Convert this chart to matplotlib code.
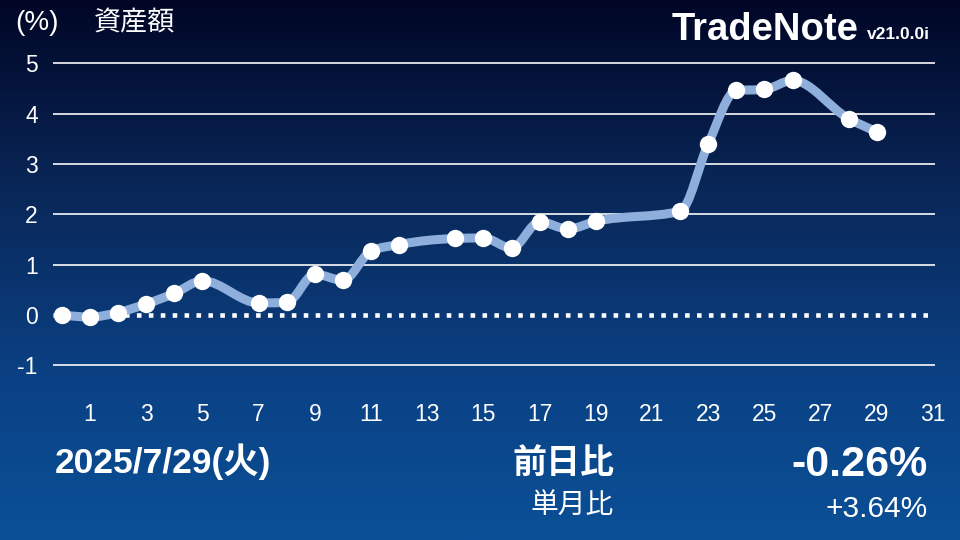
import numpy as np
import matplotlib
matplotlib.use("Agg")
import matplotlib.pyplot as plt
from matplotlib.path import Path
from matplotlib.patches import PathPatch
from matplotlib.colors import LinearSegmentedColormap

# ---- data ----
days = [0, 1, 2, 3, 4, 5, 7, 8, 9, 10, 11, 12, 14, 15, 16, 17, 18, 19, 22, 23, 24, 25, 26, 28, 29]
values = [0.00, -0.04, 0.05, 0.22, 0.43, 0.68, 0.24, 0.25, 0.81, 0.69, 1.27, 1.40, 1.52, 1.53,
          1.33, 1.85, 1.71, 1.86, 2.06, 3.40, 4.46, 4.48, 4.66, 3.90, 3.64]
x_ticks = list(range(1, 32, 2))
y_ticks = [-1, 0, 1, 2, 3, 4, 5]
date_label = "2025/7/29(火)"
day_change = "-0.26%"
month_change = "+3.64%"

W, H = 960, 540
fig = plt.figure(figsize=(9.6, 5.4), dpi=100)

# background gradient
bg = fig.add_axes([0, 0, 1, 1], zorder=-10)
cmap = LinearSegmentedColormap.from_list(
    "bg", [(0.0, "#010626"), (0.35, "#092758"), (0.7, "#0b4184"), (1.0, "#0a5097")])
grad = np.linspace(0, 1, 256).reshape(-1, 1)
bg.imshow(grad, aspect="auto", cmap=cmap, extent=[0, 1, 0, 1], origin="upper")
bg.set_axis_off()

# main axes
left, right, top, bottom = 53, 935, 60, 370
ax = fig.add_axes([left / W, 1 - bottom / H, (right - left) / W, (bottom - top) / H])
ax.set_facecolor("none")
ax.set_xlim(-0.32, 31.07)
ax.set_ylim(-1.092, 5.065)
for s in ax.spines.values():
    s.set_visible(False)

for v in y_ticks:
    if v == 0:
        ax.axhline(0, color="white", lw=3.3, linestyle=(0, (1, 1.6)), zorder=1)
    else:
        ax.axhline(v, color="white", lw=1.3, alpha=0.9, zorder=1)

ax.set_yticks(y_ticks)
ax.set_yticklabels([str(v) for v in y_ticks])
ax.set_xticks(x_ticks)
ax.set_xticklabels([str(v) for v in x_ticks])
ax.tick_params(axis="both", length=0, colors="white", labelsize=16.5)
ax.tick_params(axis="y", pad=11)
ax.tick_params(axis="x", pad=24)
for lab in ax.get_xticklabels() + ax.get_yticklabels():
    lab.set_family(["Liberation Sans", "DejaVu Sans"])

# monotone cubic curve (rendering style) through the data points
x = np.array(days, float)
y = np.array(values, float)
h = np.diff(x)
sec = np.diff(y) / h
n = len(x)
m = np.zeros(n)
for i in range(1, n - 1):
    s0, s1 = sec[i - 1], sec[i]
    p = (s0 * h[i] + s1 * h[i - 1]) / (h[i - 1] + h[i])
    m[i] = (np.sign(s0) + np.sign(s1)) * min(abs(s0), abs(s1), 0.5 * abs(p))
m[0] = (3 * sec[0] - m[1]) / 2
m[-1] = (3 * sec[-1] - m[-2]) / 2
verts = [(x[0], y[0])]
codes = [Path.MOVETO]
for i in range(n - 1):
    d = h[i] / 3
    verts += [(x[i] + d, y[i] + m[i] * d), (x[i + 1] - d, y[i + 1] - m[i + 1] * d), (x[i + 1], y[i + 1])]
    codes += [Path.CURVE4] * 3
ax.add_patch(PathPatch(Path(verts, codes), fill=False, edgecolor="#8eaedb", lw=6.5,
                       capstyle="round", joinstyle="round", zorder=3))
ax.plot(days, values, "o", color="white", markersize=12.5, markeredgewidth=0, zorder=4)

# texts
def ftext(px, py, s, **kw):
    fig.text(px / W, 1 - py / H, s, color="white", **kw)

cjk = ["Noto Sans CJK JP", "DejaVu Sans"]
lat = ["Liberation Sans", "Noto Sans CJK JP", "DejaVu Sans"]

ftext(15, 23, "(%)", family=lat, fontsize=20, va="center", ha="left")
ftext(94, 23, "資産額", family=cjk, fontsize=19.5, va="center", ha="left")
ftext(858, 40, "TradeNote", family=lat, fontsize=27.5, fontweight="bold", ha="right", va="baseline")
ftext(930, 39, "v21.0.0i", family=lat, fontsize=12.5, fontweight="bold", ha="right", va="baseline")

ftext(55, 473, date_label, family=lat, fontsize=25.5, fontweight="bold", ha="left", va="baseline")
ftext(614, 462, "前日比", family=cjk, fontsize=24.5, fontweight="bold", ha="right", va="center")
ftext(928, 476, day_change, family=lat, fontsize=31, fontweight="bold", ha="right", va="baseline")
ftext(614, 505, "単月比", family=cjk, fontsize=20, ha="right", va="center")
ftext(928, 517, month_change, family=lat, fontsize=21.5, ha="right", va="baseline")

fig.savefig("out.png", dpi=100)
